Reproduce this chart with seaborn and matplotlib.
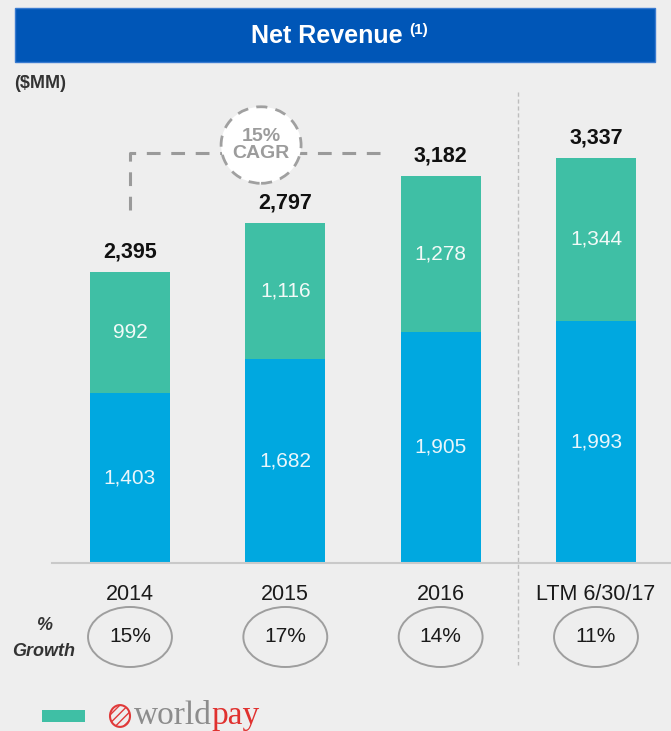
import numpy as np
import pandas as pd
import matplotlib
matplotlib.use("Agg")
import matplotlib.pyplot as plt
from matplotlib.patches import Ellipse, Rectangle, Circle
import seaborn as sns

periods = ["2014", "2015", "2016", "LTM 6/30/17"]
merchant = [1403, 1682, 1905, 1993]
worldpay = [992, 1116, 1278, 1344]
totals = [2395, 2797, 3182, 3337]
growth = ["15%", "17%", "14%", "11%"]
cagr_label = "15%\nCAGR"

BLUE = "#00A8E0"
TEAL = "#3FBFA5"
BG = "#EEEEEE"

sns.set_theme(style="white")
plt.rcParams['font.family'] = ['Liberation Sans', 'DejaVu Sans']
plt.rcParams['hatch.color'] = "#E03A3A"

df = pd.DataFrame({"period": periods, "merchant": merchant, "worldpay": worldpay, "total": totals})

W, H = 671, 731
fig = plt.figure(figsize=(W / 100, H / 100), dpi=100, facecolor=BG)

def fx(px):
    return px / W

def fy(py):
    return 1 - py / H

# px per unit and axes placement
scale = 0.1215
ax = fig.add_axes([fx(52), fy(563), 1 - fx(52), (563 - 110) / H])
ax.set_facecolor("none")

sns.barplot(data=df, x="period", y="total", order=periods, color=TEAL, saturation=1,
            width=0.515, ax=ax, edgecolor="none")
sns.barplot(data=df, x="period", y="merchant", order=periods, color=BLUE, saturation=1,
            width=0.515, ax=ax, edgecolor="none")

ax.set_xlim(-0.502, 3.483)
ax.set_ylim(0, (563 - 110) / scale)
ax.set_xlabel("")
ax.set_ylabel("")
ax.set_yticks([])
for s in ["top", "right", "left"]:
    ax.spines[s].set_visible(False)
ax.spines["bottom"].set_color("#C9C9C9")
ax.spines["bottom"].set_linewidth(1.5)
ax.tick_params(axis="x", length=0, pad=15, labelsize=15.5, labelcolor="#1A1A1A")

# value labels
for i, p in enumerate(periods):
    ax.text(i, totals[i] + 165, f"{totals[i]:,}", ha="center", va="center",
            fontsize=15.5, fontweight="bold", color="#111111")
    ax.text(i, merchant[i] + worldpay[i] / 2, f"{worldpay[i]:,}", ha="center", va="center",
            fontsize=15, color="#F2FAF8")
    ax.text(i, merchant[i] / 2, f"{merchant[i]:,}", ha="center", va="center",
            fontsize=15, color="#EAF6FB")
    ax.add_patch(Ellipse((i, -609), 0.54, 494, facecolor="none", edgecolor="#9E9E9E",
                         lw=1.4, clip_on=False))
    ax.text(i, -609, growth[i], ha="center", va="center", fontsize=15, color="#1A1A1A")

# CAGR connector
ax.plot([0, 0, 1.61], [2905, 3374, 3374], color="#9A9A9A", lw=2.2, dashes=(4.5, 3.5),
        clip_on=False, solid_joinstyle="miter")
ax.add_patch(Ellipse((0.844, 3440), 0.515, 630, facecolor="white", edgecolor="#A0A0A0",
                     lw=2, linestyle=(0, (4, 3)), clip_on=False, zorder=5))
ax.text(0.844, 3440, cagr_label, ha="center", va="center", fontsize=14, fontweight="bold",
        color="#9C9C9C", linespacing=1.0, zorder=6)

# separator
ax.plot([2.5, 2.5], [(563 - 92) / scale, (563 - 665) / scale], color="#BDBDBD", lw=1,
        ls=(0, (3, 2)), clip_on=False)

# header
fig.patches.append(Rectangle((fx(15), fy(62)), fx(640), (62 - 8) / H, transform=fig.transFigure,
                             facecolor="#0056B7", edgecolor="#3A7BD0", lw=1))
t0 = fig.text(fx(327), fy(36), "Net Revenue", ha="center", va="center", fontsize=18,
              fontweight="bold", color="white")
fig.canvas.draw()
bb0 = t0.get_window_extent()
fig.text(bb0.x1 / W + fx(6), fy(30), "(1)", ha="left", va="center", fontsize=11,
         fontweight="bold", color="white")
fig.text(fx(14), fy(83), "($MM)", ha="left", va="center", fontsize=13, fontweight="bold",
         color="#333333")

# % Growth label
fig.text(fx(44), fy(626), "%", ha="center", va="center", fontsize=13, fontweight="bold",
         style="italic", color="#333333")
fig.text(fx(44), fy(651), "Growth", ha="center", va="center", fontsize=13, fontweight="bold",
         style="italic", color="#333333")

# legend
fig.patches.append(Rectangle((fx(42), fy(722)), fx(43), 12 / H, transform=fig.transFigure,
                             facecolor=TEAL, edgecolor="none"))
fig.patches.append(Circle((fx(120), fy(716)), 10 / W, transform=fig.transFigure,
                          facecolor="none", edgecolor="#E03A3A", lw=1.5, hatch="////"))
t1 = fig.text(fx(134), fy(716), "world", ha="left", va="center", fontsize=24,
              family=["Liberation Serif"], color="#8C8C8C")
fig.canvas.draw()
bb = t1.get_window_extent()
fig.text(bb.x1 / W, fy(716), "pay", ha="left", va="center", fontsize=24,
         family=["Liberation Serif"], color="#E0312F")

fig.savefig("out.png", dpi=100, facecolor=BG)
